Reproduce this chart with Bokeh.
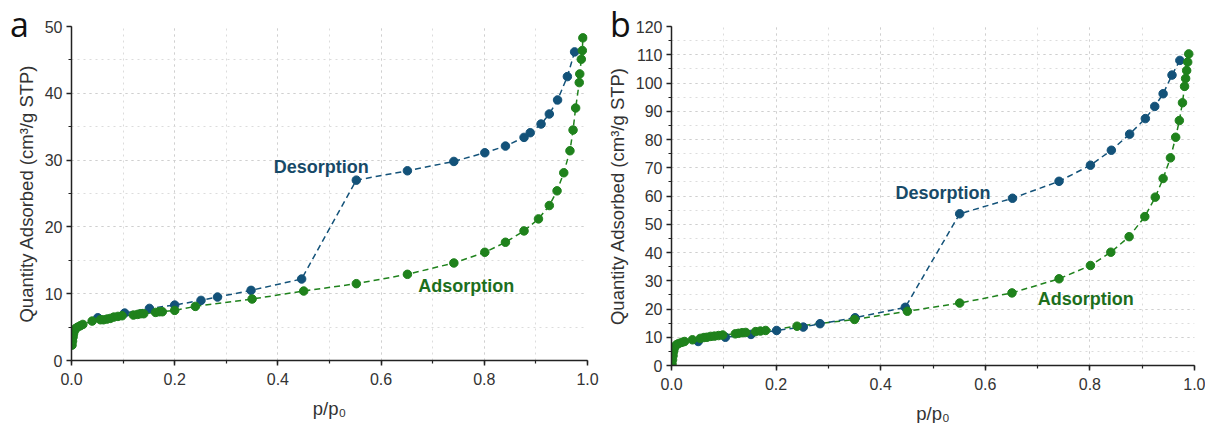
from bokeh.plotting import figure
from bokeh.layouts import row
from bokeh.models import Label, SingleIntervalTicker, NumeralTickFormatter, Div
from bokeh.embed import file_html
from bokeh.resources import INLINE

# ---- Panel a data ----
a_ads_x = [0.001, 0.002, 0.003, 0.004, 0.006, 0.008, 0.012, 0.017, 0.022, 0.04,
           0.056, 0.062, 0.069, 0.075, 0.082, 0.09, 0.098, 0.12, 0.128, 0.134, 0.14,
           0.163, 0.17, 0.176, 0.2, 0.24, 0.35, 0.45, 0.552, 0.651, 0.741, 0.801,
           0.841, 0.877, 0.905, 0.926, 0.941, 0.954, 0.966, 0.972, 0.977, 0.984,
           0.985, 0.988, 0.990, 0.991]
a_ads_y = [2.3, 2.9, 3.5, 4.0, 4.5, 4.8, 5.0, 5.2, 5.4, 5.9,
           6.1, 6.1, 6.2, 6.3, 6.5, 6.6, 6.7, 6.8, 6.9, 7.0, 7.0,
           7.2, 7.3, 7.3, 7.5, 8.1, 9.2, 10.4, 11.5, 12.9, 14.6, 16.2,
           17.7, 19.4, 21.2, 23.2, 25.4, 28.1, 31.4, 34.5, 37.8, 41.6,
           42.9, 45.1, 46.4, 48.3]
a_des_x = [0.975, 0.961, 0.942, 0.926, 0.910, 0.889, 0.877, 0.841, 0.801, 0.741,
           0.651, 0.552, 0.446, 0.348, 0.283, 0.251, 0.200, 0.151, 0.103, 0.051]
a_des_y = [46.2, 42.5, 39.0, 36.9, 35.4, 34.1, 33.4, 32.1, 31.1, 29.8,
           28.4, 27.0, 12.2, 10.5, 9.5, 9.0, 8.3, 7.8, 7.1, 6.4]

# ---- Panel b data ----
b_ads_x = [0.001, 0.002, 0.003, 0.004, 0.005, 0.007, 0.010, 0.014, 0.020, 0.025,
           0.040, 0.055, 0.062, 0.068, 0.075, 0.082, 0.090, 0.098, 0.122, 0.128,
           0.135, 0.142, 0.161, 0.170, 0.180, 0.240, 0.350, 0.451, 0.551, 0.651,
           0.741, 0.801, 0.840, 0.875, 0.905, 0.925, 0.940, 0.954, 0.964, 0.971,
           0.977, 0.981, 0.983, 0.985, 0.987, 0.989]
b_ads_y = [0.5, 2.0, 3.5, 5.0, 6.0, 6.8, 7.4, 7.8, 8.2, 8.5,
           9.1, 9.6, 9.9, 10.0, 10.3, 10.4, 10.6, 10.8, 11.2, 11.4,
           11.6, 11.7, 12.0, 12.2, 12.4, 13.9, 16.3, 19.2, 22.1, 25.7,
           30.7, 35.4, 40.1, 45.6, 52.7, 59.6, 66.2, 73.5, 80.8, 86.7,
           93.0, 98.8, 101.6, 104.4, 107.4, 110.3]
b_des_x = [0.972, 0.957, 0.940, 0.924, 0.906, 0.876, 0.841, 0.801, 0.741, 0.652,
           0.551, 0.447, 0.351, 0.284, 0.252, 0.201, 0.152, 0.103, 0.051]
b_des_y = [108.0, 102.8, 96.2, 91.7, 87.4, 81.9, 76.2, 70.9, 65.2, 59.2,
           53.7, 20.6, 16.9, 14.8, 13.6, 12.4, 11.0, 10.0, 8.5]

a_ymax = 50
b_ymax = 120
panel_letters = ["a", "b"]

BLUE = "#135279"
GREEN = "#1f821c"
BLUE_TXT = "#174a68"
GREEN_TXT = "#1d6f1d"
FONT = "Liberation Sans"


def make_panel(ads_x, ads_y, des_x, des_y, ymax, width, frame_w, frame_h,
               left, right, top, bottom, des_lbl, ads_lbl):
    p = figure(width=width, height=423, frame_width=frame_w, frame_height=frame_h,
               x_range=(0, 1), y_range=(0, ymax), output_backend="svg",
               toolbar_location=None, min_border_left=left, min_border_right=right,
               min_border_top=top, min_border_bottom=bottom)
    p.outline_line_color = None
    p.background_fill_color = "white"
    p.border_fill_color = "white"

    p.xaxis.ticker = SingleIntervalTicker(interval=0.2, num_minor_ticks=2)
    p.yaxis.ticker = SingleIntervalTicker(interval=10, num_minor_ticks=2)
    p.xgrid.ticker = p.xaxis.ticker
    p.ygrid.ticker = p.yaxis.ticker
    p.xaxis.formatter = NumeralTickFormatter(format="0.0")

    for ax in (p.xaxis, p.yaxis):
        ax.axis_line_color = "#222222"
        ax.axis_line_width = 1.5
        ax.major_tick_line_color = "#222222"
        ax.minor_tick_line_color = "#222222"
        ax.major_tick_line_width = 1.5
        ax.minor_tick_line_width = 1.2
        ax.major_tick_in = 0
        ax.major_tick_out = 5
        ax.minor_tick_in = 0
        ax.minor_tick_out = 3
        ax.major_label_text_font = FONT
        ax.major_label_text_font_size = "16px"
        ax.major_label_text_color = "#333333"
        ax.axis_label_text_font = FONT
        ax.axis_label_text_font_size = "18.5px"
        ax.axis_label_text_font_style = "normal"
        ax.axis_label_text_color = "#333333"

    p.xaxis.axis_label = "p/p\u2080"
    p.yaxis.axis_label = "Quantity Adsorbed (cm\u00b3/g STP)"
    p.xaxis.major_label_standoff = 7
    p.yaxis.major_label_standoff = 4
    p.xaxis.axis_label_standoff = 10
    p.yaxis.axis_label_standoff = 5

    for g in (p.xgrid, p.ygrid):
        g.grid_line_color = "#cfcfcf"
        g.grid_line_dash = "dotted"
        g.grid_line_width = 1
        g.minor_grid_line_color = "#dcdcdc"
        g.minor_grid_line_dash = "dotted"
        g.minor_grid_line_width = 1

    p.line(ads_x, ads_y, line_color=GREEN, line_width=1.5, line_dash="6 4")
    p.line(des_x, des_y, line_color=BLUE, line_width=1.5, line_dash="6 4")
    p.scatter(des_x, des_y, size=8.5, fill_color=BLUE, line_color=BLUE)
    p.scatter(ads_x, ads_y, size=8.5, fill_color=GREEN, line_color=GREEN)

    p.add_layout(Label(x=des_lbl[0], y=des_lbl[1], text="Desorption",
                       text_font=FONT, text_font_style="bold", text_font_size="18px",
                       text_color=BLUE_TXT, text_align="center", text_baseline="middle"))
    p.add_layout(Label(x=ads_lbl[0], y=ads_lbl[1], text="Adsorption",
                       text_font=FONT, text_font_style="bold", text_font_size="18px",
                       text_color=GREEN_TXT, text_align="center", text_baseline="middle"))
    return p


def letter_div(letter, left):
    return Div(text=letter, styles={
        "position": "absolute", "left": f"{left}px", "top": "7px",
        "font-family": "Open Sans", "font-size": "34px", "line-height": "1",
        "color": "#111111", "margin": "0", "padding": "0", "z-index": "10"})


pa = make_panel(a_ads_x, a_ads_y, a_des_x, a_des_y, a_ymax, 600, 516, 334,
                71, 13, 26, 63, (0.484, 28.9), (0.765, 11.2))
pb = make_panel(b_ads_x, b_ads_y, b_des_x, b_des_y, b_ymax, 605, 523, 339,
                71, 11, 26, 58, (0.519, 60.9), (0.792, 23.7))

layout = row(pa, pb, letter_div(panel_letters[0], 10), letter_div(panel_letters[1], 610))
open("out.html", "w").write(file_html(layout, INLINE))
